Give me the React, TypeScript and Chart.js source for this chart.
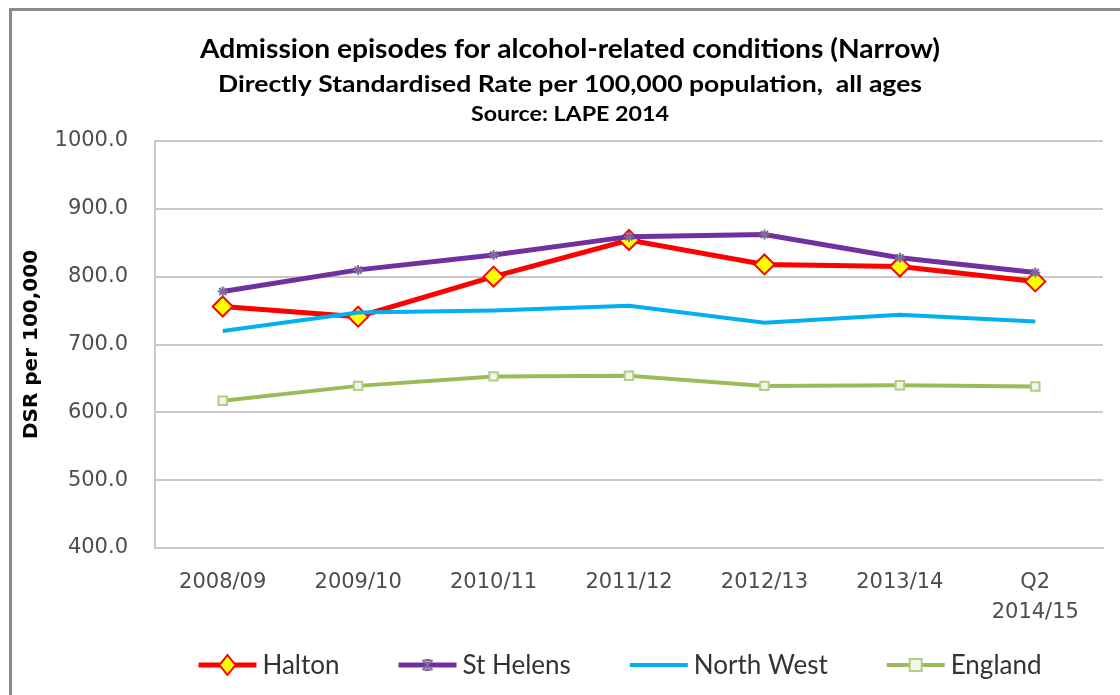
import React, { useEffect, useRef } from "react";
import { Chart, registerables } from "chart.js";

Chart.register(...registerables);

const categories: string[][] = [
  ["2008/09"],
  ["2009/10"],
  ["2010/11"],
  ["2011/12"],
  ["2012/13"],
  ["2013/14"],
  ["Q2", "2014/15"],
];

const halton = [756, 741, 800, 854, 818, 815, 793];
const stHelens = [778, 810, 832, 859, 862, 828, 806];
const northWest = [720, 747, 750, 757, 732, 744, 734];
const england = [617, 639, 653, 654, 639, 640, 638];

const seriesNames = ["Halton", "St Helens", "North West", "England"];

const yMin = 400;
const yMax = 1000;
const yStep = 100;

const titleText = "Admission episodes for alcohol-related conditions (Narrow)";
const subtitleText = "Directly Standardised Rate per 100,000 population,  all ages";
const sourceText = "Source: LAPE 2014";
const yAxisTitle = "DSR per 100,000";

function drawMarker(ctx: CanvasRenderingContext2D, style: string, x: number, y: number, r: number, fill: string, stroke: string, bw: number) {
  ctx.save();
  ctx.fillStyle = fill;
  ctx.strokeStyle = stroke;
  ctx.lineWidth = bw;
  ctx.beginPath();
  if (style === "rectRot") {
    ctx.moveTo(x, y - r);
    ctx.lineTo(x + r * 0.8, y);
    ctx.lineTo(x, y + r);
    ctx.lineTo(x - r * 0.8, y);
    ctx.closePath();
    ctx.fill();
    ctx.stroke();
  } else if (style === "rect") {
    ctx.rect(x - r, y - r, 2 * r, 2 * r);
    ctx.fill();
    ctx.stroke();
  } else if (style === "star") {
    ctx.moveTo(x - r, y - r);
    ctx.lineTo(x + r, y + r);
    ctx.moveTo(x + r, y - r);
    ctx.lineTo(x - r, y + r);
    ctx.moveTo(x, y - r);
    ctx.lineTo(x, y + r);
    ctx.moveTo(x - r * 0.6, y - r);
    ctx.lineTo(x + r * 0.6, y - r);
    ctx.moveTo(x - r * 0.6, y + r);
    ctx.lineTo(x + r * 0.6, y + r);
    ctx.stroke();
  }
  ctx.restore();
}

function drawFitted(ctx: CanvasRenderingContext2D, text: string, cx: number, baseline: number, font: string, width: number) {
  ctx.save();
  ctx.font = font;
  ctx.fillStyle = "#000000";
  ctx.textAlign = "center";
  ctx.textBaseline = "alphabetic";
  const w = ctx.measureText(text).width;
  const s = width / w;
  ctx.translate(cx, baseline);
  ctx.scale(s, 1);
  ctx.fillText(text, 0, 0);
  ctx.restore();
}

const titlesPlugin = {
  id: "customTitles",
  afterDraw(chart: any) {
    const ctx = chart.ctx as CanvasRenderingContext2D;
    drawFitted(ctx, titleText, 570, 58, "bold 27px Lato", 740);
    drawFitted(ctx, subtitleText, 570, 92, "bold 23px Lato", 704);
    drawFitted(ctx, sourceText, 570, 121, "bold 20px Lato", 198);
  },
};

const legendPlugin = {
  id: "customLegend",
  afterDraw(chart: any) {
    const ctx = chart.ctx as CanvasRenderingContext2D;
    const ds = chart.data.datasets;
    const order = [0, 1, 2, 3];
    const symW = 58;
    const gap = 6;
    const itemGap = 59;
    const y = 665;
    ctx.save();
    ctx.font = "26px Lato";
    const widths = order.map((i) => ctx.measureText(ds[i].label).width);
    const total = widths.reduce((a, b) => a + b, 0) + order.length * (symW + gap) + (order.length - 1) * itemGap;
    let x = 620 - total / 2;
    order.forEach((i, k) => {
      const d = ds[i];
      ctx.strokeStyle = d.borderColor;
      ctx.lineWidth = d.borderWidth;
      ctx.beginPath();
      ctx.moveTo(x, y);
      ctx.lineTo(x + symW, y);
      ctx.stroke();
      if (d.pointRadius > 0) {
        drawMarker(ctx, d.pointStyle, x + symW / 2, y, d.pointRadius, d.pointBackgroundColor, d.pointBorderColor, d.pointBorderWidth);
      }
      x += symW + gap;
      ctx.fillStyle = "#333333";
      ctx.textAlign = "left";
      ctx.textBaseline = "middle";
      ctx.fillText(d.label, x, y + 1);
      x += widths[k] + itemGap;
    });
    ctx.restore();
  },
};

export default function App() {
  const canvasRef = useRef<HTMLCanvasElement | null>(null);

  useEffect(() => {
    const canvas = canvasRef.current;
    if (!canvas) return;
    const chart = new Chart(canvas, {
      type: "line",
      data: {
        labels: categories,
        datasets: [
          {
            label: seriesNames[0],
            data: halton,
            borderColor: "#FF0000",
            borderWidth: 5,
            pointStyle: "rectRot",
            pointRadius: 10,
            pointBackgroundColor: "#FFFF00",
            pointBorderColor: "#FF0000",
            pointBorderWidth: 2,
            tension: 0,
            order: 2,
          },
          {
            label: seriesNames[1],
            data: stHelens,
            borderColor: "#7030A0",
            borderWidth: 5,
            pointStyle: "star",
            pointRadius: 5,
            pointBackgroundColor: "#7F6A9F",
            pointBorderColor: "#7F6A9F",
            pointBorderWidth: 2,
            tension: 0,
            order: 0,
          },
          {
            label: seriesNames[2],
            data: northWest,
            borderColor: "#00B0F0",
            borderWidth: 4,
            pointRadius: 0,
            pointStyle: "circle",
            pointBackgroundColor: "#00B0F0",
            pointBorderColor: "#00B0F0",
            pointBorderWidth: 0,
            tension: 0,
            order: 1,
          },
          {
            label: seriesNames[3],
            data: england,
            borderColor: "#9BBB59",
            borderWidth: 4,
            pointStyle: "rect",
            pointRadius: 6,
            pointBackgroundColor: "#F2F6EA",
            pointBorderColor: "#B4CC84",
            pointBorderWidth: 2,
            tension: 0,
            order: 3,
          },
        ] as any,
      },
      options: {
        animation: false,
        responsive: false,
        devicePixelRatio: 1,
        events: [],
        layout: {
          autoPadding: false,
          padding: { left: 0, top: 141, right: 17, bottom: 0 },
        },
        plugins: {
          legend: { display: false },
          title: { display: false },
          tooltip: { enabled: false },
        },
        scales: {
          x: {
            offset: true,
            afterFit: (scale: any) => {
              scale.height = 147;
            },
            grid: { display: false, drawTicks: false },
            border: { display: true, color: "#C8C8C8", width: 2 },
            ticks: {
              color: "#4D4D4D",
              font: { family: "DejaVu Sans", size: 21, lineHeight: 1.4 },
              padding: 20,
              maxRotation: 0,
              autoSkip: false,
            },
          },
          y: {
            min: yMin,
            max: yMax,
            afterFit: (scale: any) => {
              scale.width = 155;
            },
            grid: { color: "#C8C8C8", lineWidth: 2, drawTicks: false },
            border: { display: true, color: "#C8C8C8", width: 2 },
            ticks: {
              stepSize: yStep,
              color: "#4D4D4D",
              font: { family: "DejaVu Sans", size: 21 },
              padding: 27,
              callback: (v: any) => Number(v).toFixed(1),
            },
            title: {
              display: true,
              text: yAxisTitle,
              color: "#000000",
              font: { family: "DejaVu Sans", size: 20, weight: "bold" },
              padding: { top: 20, bottom: 0 },
            },
          },
        },
      },
      plugins: [titlesPlugin, legendPlugin],
    });
    return () => chart.destroy();
  }, []);

  return (
    <div style={{ position: "fixed", left: 0, top: 0, width: 1120, height: 695, background: "#ffffff", overflow: "hidden" }}>
      <div
        style={{
          position: "absolute",
          left: 9,
          top: 8,
          width: 1200,
          height: 800,
          borderLeft: "3px solid #8a8a8a",
          borderTop: "3px solid #8a8a8a",
          boxSizing: "border-box",
        }}
      />
      <canvas ref={canvasRef} width={1120} height={695} style={{ position: "absolute", left: 0, top: 0, width: 1120, height: 695 }} />
    </div>
  );
}
